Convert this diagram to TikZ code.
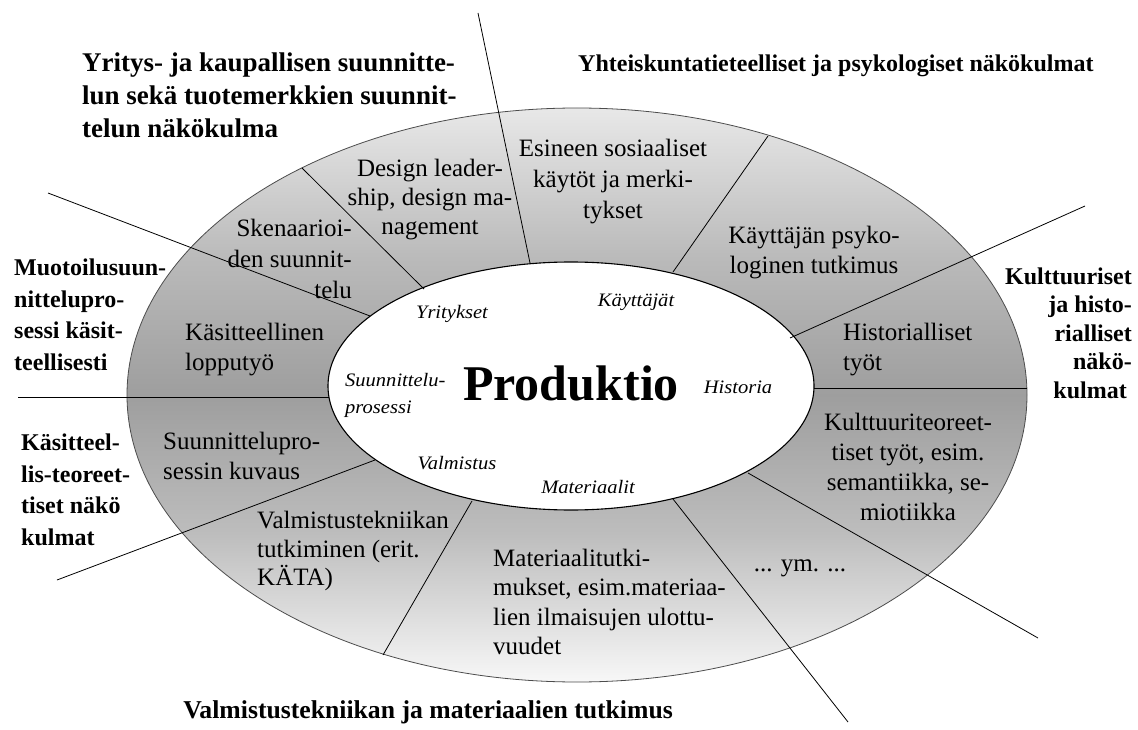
\documentclass[tikz,border=0pt]{standalone}
\usepackage{fontspec}
\setmainfont{Liberation Serif}
\newfontfamily\labfont[FakeStretch=1.08]{Liberation Serif}
\pgfdeclareverticalshading{ringshade}{100bp}{color(0bp)=(black!3); color(25bp)=(black!3); color(38bp)=(black!26); color(50bp)=(black!38); color(62bp)=(black!27); color(75bp)=(black!9); color(100bp)=(black!9)}
\begin{document}
\begin{tikzpicture}[x=1pt,y=-1pt,
  body/.style={inner sep=0pt,font=\fontsize{25}{30}\selectfont},
  head/.style={inner sep=0pt,font=\fontsize{24}{33}\selectfont\bfseries},
  lab/.style={inner sep=0pt,font=\labfont\itshape\fontsize{19}{27}\selectfont},
  divider/.style={draw=black,line width=0.8pt}]
\useasboundingbox (0,0) rectangle (1138,730);
% ring
\shade[even odd rule,shading=ringshade]
  (577,395) ellipse [x radius=450pt,y radius=287pt]
  (571,386) ellipse [x radius=243pt,y radius=124pt];
\draw[black!70,line width=0.8pt] (577,395) ellipse [x radius=450pt,y radius=287pt];
\draw[black,line width=1.1pt] (571,386) ellipse [x radius=243pt,y radius=124pt];
% divider coordinates
\coordinate (a1) at (478,13);  \coordinate (b1) at (530,263);
\coordinate (a2) at (302,168); \coordinate (b2) at (424,289);
\coordinate (a3) at (48,193);  \coordinate (b3) at (370,316);
\coordinate (a4) at (18,397);  \coordinate (b4) at (329,397);
\coordinate (a5) at (57,580);  \coordinate (b5) at (375,460);
\coordinate (a6) at (472,501); \coordinate (b6) at (383,655);
\coordinate (a7) at (673,499); \coordinate (b7) at (848,722);
\coordinate (a8) at (748,473); \coordinate (b8) at (1038,638);
\coordinate (a9) at (814,388); \coordinate (b9) at (1027,388);
\coordinate (a10) at (790,338); \coordinate (b10) at (1085,206);
\coordinate (a11) at (768,136); \coordinate (b11) at (673,272);
\foreach \i in {1,...,11} {\draw[divider] (a\i) -- (b\i);}
% headings
\node[head,anchor=west,align=left,font=\fontsize{27}{33}\selectfont\bfseries] (h1) at (82,95)
  {Yritys- ja kaupallisen suunnitte-\\lun sekä tuotemerkkien suunnit-\\telun näkökulma};
\node[head,anchor=west] (h2) at (578,66) {Yhteiskuntatieteelliset ja psykologiset näkökulmat};
\node[head,anchor=west,align=left,font=\fontsize{24}{31.5}\selectfont\bfseries] (h3) at (14,315) {Muotoilusuun-\\nittelupro-\\sessi käsit-\\teellisesti};
\node[head,anchor=west,align=left,font=\fontsize{24}{31.5}\selectfont\bfseries] (h4) at (21,490) {Käsitteel-\\lis-teoreet-\\tiset näkö\\kulmat};
\node[head,anchor=east,align=right,font=\fontsize{24}{28.5}\selectfont\bfseries] (h5) at (1132,333) {Kulttuuriset\\ja histo-\\rialliset\\näkö-\hspace*{8pt}\\kulmat\hspace*{5pt}};
\node[head,anchor=east,font=\fontsize{25.7}{30}\selectfont\bfseries] (h6) at (673,712) {Valmistustekniikan ja materiaalien tutkimus};
% centre
\node[inner sep=0pt,font=\fontsize{50}{50}\selectfont\bfseries] (prod) at (571,383) {Produktio};
% italic labels
\node[lab] (l1) at (452,314) {Yritykset};
\node[lab] (l2) at (636,302) {Käyttäjät};
\node[lab,anchor=west,align=left] (l3) at (345,395) {Suunnittelu-\\prosessi};
\node[lab] (l4) at (738,387) {Historia};
\node[lab] (l5) at (457,463) {Valmistus};
\node[lab] (l6) at (588,487) {Materiaalit};
% ring texts
\node[body,align=center,font=\fontsize{25}{29}\selectfont] (t1) at (430,200) {Design leader-\\ship, design ma-\\nagement};
\node[body,align=center,font=\fontsize{25}{31}\selectfont] (t2) at (613,182) {Esineen sosiaaliset\\käytöt ja merki-\\tykset};
\node[body,anchor=east,align=right,font=\fontsize{25}{31}\selectfont] (t3) at (352,259) {Skenaarioi-\\den suunnit-\\telu};
\node[body,align=center] (t4) at (814,253) {Käyttäjän psyko-\\loginen tutkimus};
\node[body,anchor=west,align=left] (t5) at (185,350) {Käsitteellinen\\lopputyö};
\node[body,anchor=west,align=left] (t6) at (843,350) {Historialliset\\työt};
\node[body,anchor=west,align=left] (t7) at (163,456) {Suunnittelupro-\\sessin kuvaus};
\node[body,align=center] (t8) at (908,467) {Kulttuuriteoreet-\\tiset työt, esim.\\semantiikka, se-\\miotiikka};
\node[body,anchor=west,align=left,font=\fontsize{25}{28.5}\selectfont] (t9) at (257,551) {Valmistustekniikan\\tutkiminen (erit.\\KÄTA)};
\node[body,anchor=west,align=left,font=\fontsize{25}{29.5}\selectfont] (t10) at (493,602) {Materiaalitutki-\\mukset, esim.materiaa-\\lien ilmaisujen ulottu-\\vuudet};
\node[body] (t11) at (800,568) {... ym. ...};
\end{tikzpicture}
\end{document}
